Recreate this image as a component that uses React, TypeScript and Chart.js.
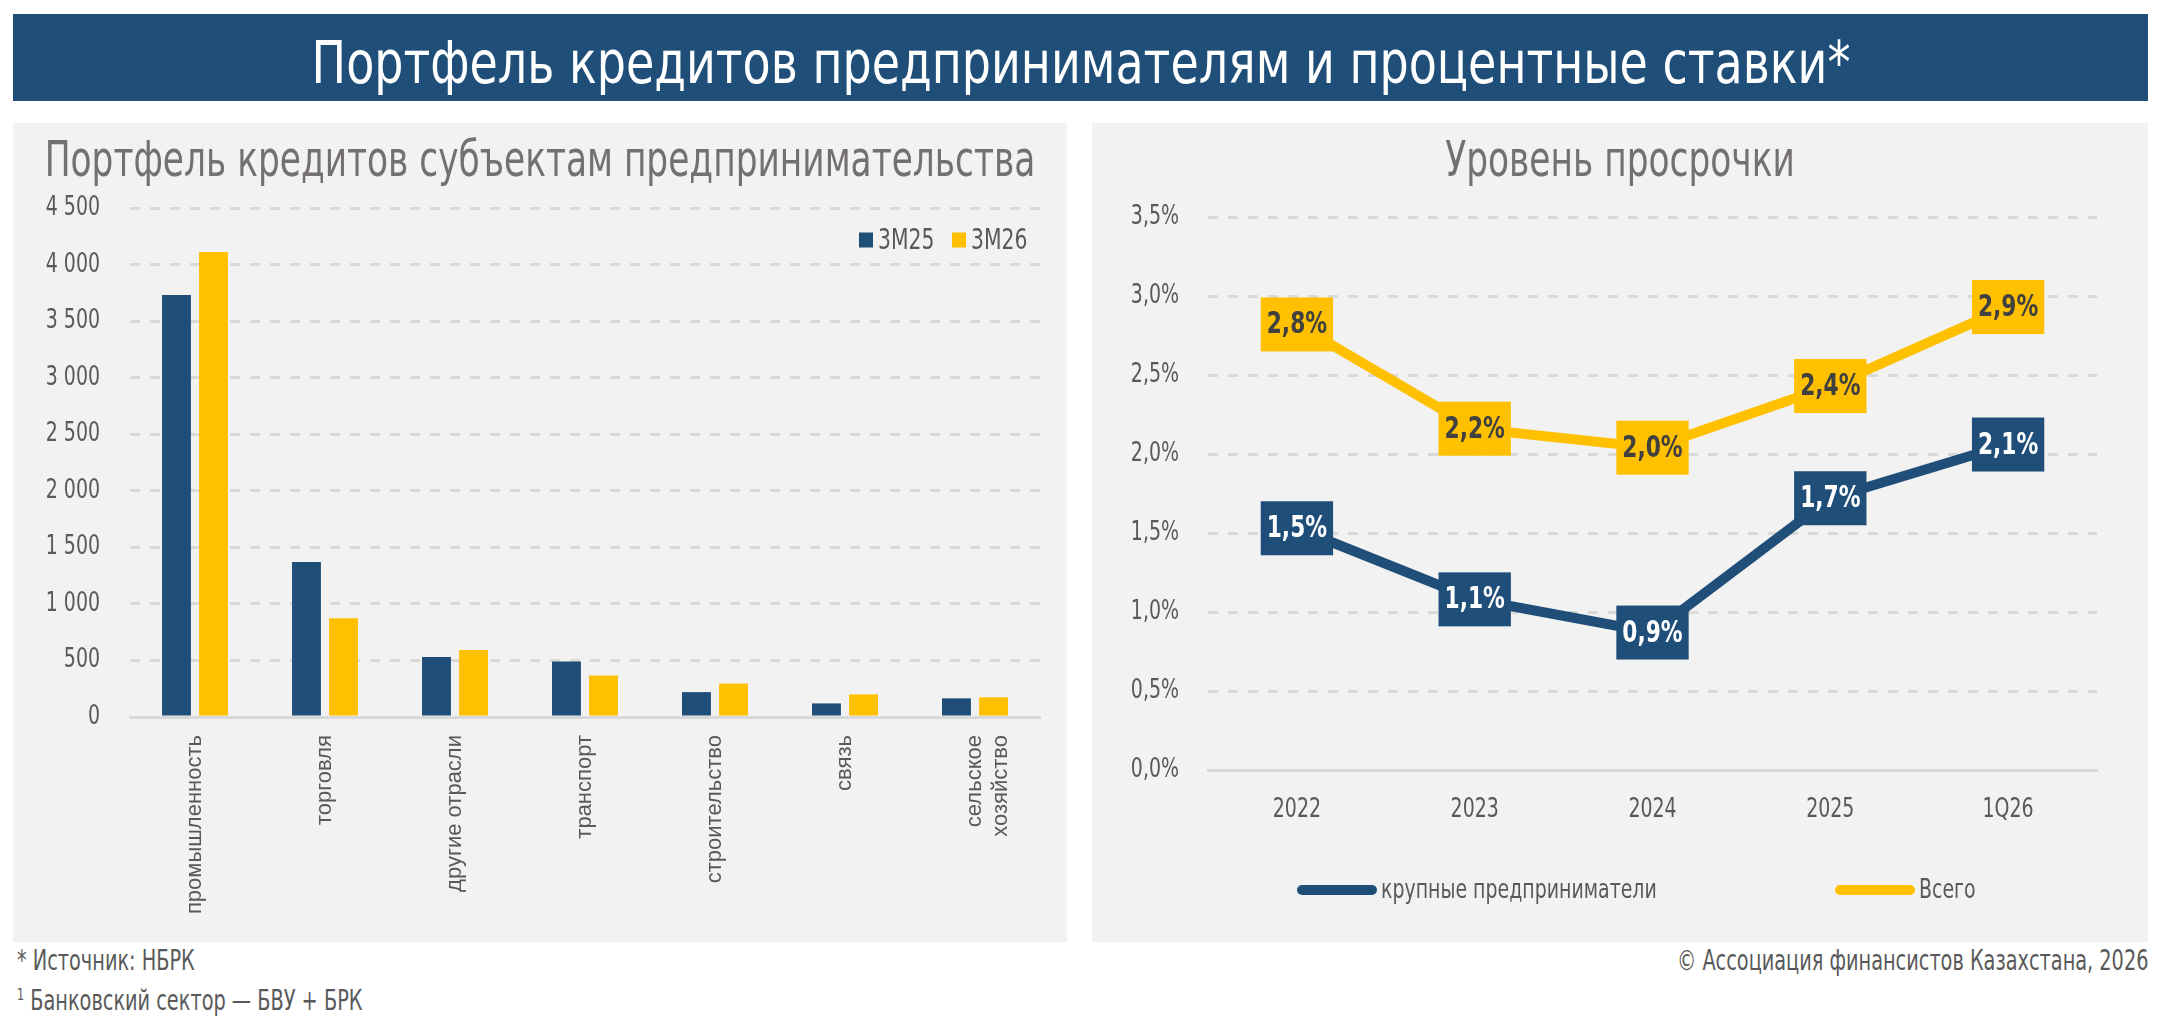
import React, { useEffect, useRef } from 'react';
import { Chart, registerables } from 'chart.js';

Chart.register(...registerables);

// ---------- data ----------
const sectors: (string | string[])[] = [
  'промышленность',
  'торговля',
  'другие отрасли',
  'транспорт',
  'строительство',
  'связь',
  ['сельское', 'хозяйство'],
];
const portfolioSeriesNames = ['3М25', '3М26'];
const portfolio3M25 = [3730, 1370, 530, 490, 220, 120, 165];
const portfolio3M26 = [4110, 872, 592, 368, 297, 200, 174];
const portfolioMax = 4500;
const portfolioStep = 500;

const periods = ['2022', '2023', '2024', '2025', '1Q26'];
const overdueSeriesNames = ['крупные предприниматели', 'Всего'];
const overdueLarge = [1.53, 1.08, 0.87, 1.72, 2.06];
const overdueTotal = [2.82, 2.16, 2.04, 2.43, 2.93];
const overdueMax = 3.5;
const overdueStep = 0.5;

const pageTitle = 'Портфель кредитов предпринимателям и процентные ставки*';
const leftTitle = 'Портфель кредитов субъектам предпринимательства';
const rightTitle = 'Уровень просрочки';

// ---------- styles ----------
const BLUE = '#1F4E79';
const YELLOW = '#FFC000';
const GRID = '#D9D9D9';
const AXIS_TEXT = '#595959';
const TITLE_TEXT = '#747070';
const COND = "'DejaVu Sans Condensed', 'DejaVu Sans', sans-serif";
const PLAIN = "'Liberation Sans', 'Arial', sans-serif";
const SX = 0.78; // horizontal squeeze for the condensed face

const fmtThousands = (v: number) => String(v).replace(/\B(?=(\d{3})+(?!\d))/g, ' ');
const fmtPct = (v: number) => v.toFixed(1).replace('.', ',') + '%';

// narrow the condensed text horizontally, keeping it real text
const squeeze = {
  id: 'squeeze',
  beforeDraw(chart: any) {
    const ctx = chart.ctx as any;
    if (ctx.__squeezed) return;
    ctx.__squeezed = true;
    const orig = ctx.fillText.bind(ctx);
    ctx.fillText = function (text: string, x: number, y: number, maxWidth?: number) {
      if (String(ctx.font).indexOf('Condensed') === -1) {
        return maxWidth === undefined ? orig(text, x, y) : orig(text, x, y, maxWidth);
      }
      ctx.save();
      ctx.translate(x, y);
      ctx.scale(SX, 1);
      if (maxWidth === undefined) orig(text, 0, 0);
      else orig(text, 0, 0, maxWidth / SX);
      ctx.restore();
    };
  },
};

// custom legend drawn from datasets
const boxLegend = {
  id: 'boxLegend',
  afterDraw(chart: any, _args: any, opts: any) {
    if (!opts || !opts.xs) return;
    const ctx = chart.ctx;
    ctx.save();
    ctx.font = opts.font;
    ctx.textBaseline = 'middle';
    ctx.textAlign = 'left';
    chart.data.datasets.forEach((ds: any, i: number) => {
      const x = opts.xs[i];
      const y = opts.y;
      ctx.fillStyle = ds.backgroundColor;
      const w = opts.boxW;
      const h = opts.boxH;
      const r = opts.radius || 0;
      ctx.beginPath();
      if (r > 0 && (ctx as any).roundRect) {
        (ctx as any).roundRect(x, y - h / 2, w, h, r);
      } else {
        ctx.rect(x, y - h / 2, w, h);
      }
      ctx.fill();
      ctx.fillStyle = opts.color;
      ctx.fillText(ds.label, x + w + opts.gap, y + 1);
    });
    ctx.restore();
  },
};

// value boxes on line points
const valueBoxes = {
  id: 'valueBoxes',
  afterDatasetsDraw(chart: any, _args: any, opts: any) {
    if (!opts || !opts.font) return;
    const ctx = chart.ctx;
    ctx.save();
    ctx.font = opts.font;
    ctx.textAlign = 'center';
    ctx.textBaseline = 'middle';
    chart.data.datasets.forEach((ds: any, di: number) => {
      const meta = chart.getDatasetMeta(di);
      meta.data.forEach((pt: any, i: number) => {
        const text = fmtPct(ds.data[i]);
        const w = ctx.measureText(text).width * SX + 2 * opts.padX;
        const h = opts.h;
        ctx.fillStyle = ds.borderColor;
        ctx.fillRect(pt.x - w / 2, pt.y - h / 2, w, h);
        ctx.fillStyle = opts.textColors[di];
        ctx.fillText(text, pt.x, pt.y + 1);
      });
    });
    ctx.restore();
  },
};

const LEFT = { x: 13, y: 123, w: 1054, h: 819 };
const RIGHT = { x: 1092, y: 123, w: 1056, h: 819 };

export default function App() {
  const leftRef = useRef<HTMLCanvasElement | null>(null);
  const rightRef = useRef<HTMLCanvasElement | null>(null);

  useEffect(() => {
    document.body.style.margin = '0';
    const charts: Chart[] = [];
    if (leftRef.current) {
      charts.push(
        new Chart(leftRef.current, {
          type: 'bar',
          data: {
            labels: sectors as any,
            datasets: [
              {
                label: portfolioSeriesNames[0],
                data: portfolio3M25,
                backgroundColor: BLUE,
                categoryPercentage: 0.57,
                barPercentage: 0.78,
              },
              {
                label: portfolioSeriesNames[1],
                data: portfolio3M26,
                backgroundColor: YELLOW,
                categoryPercentage: 0.57,
                barPercentage: 0.78,
              },
            ],
          },
          options: {
            responsive: false,
            animation: false,
            layout: { padding: { left: 0, right: 27, top: 85, bottom: 0 } },
            plugins: {
              legend: { display: false },
              tooltip: { enabled: false },
              title: { display: false },
              boxLegend: {
                xs: [846, 939],
                y: 117,
                boxW: 14,
                boxH: 15,
                gap: 5,
                font: `29px ${COND}`,
                color: AXIS_TEXT,
              },
            } as any,
            scales: {
              x: {
                grid: { display: false, drawTicks: false },
                border: { display: true, color: GRID, width: 3 },
                ticks: {
                  color: AXIS_TEXT,
                  font: { family: PLAIN, size: 22 },
                  minRotation: 90,
                  maxRotation: 90,
                  padding: 18,
                  autoSkip: false,
                },
                afterFit: (s: any) => {
                  s.height = 225;
                },
              },
              y: {
                min: 0,
                max: portfolioMax,
                ticks: {
                  stepSize: portfolioStep,
                  color: AXIS_TEXT,
                  font: { family: COND, size: 27 },
                  padding: 30,
                  callback: (v: any) => fmtThousands(Number(v)),
                },
                grid: {
                  color: (c: any) => (c.tick && c.tick.value === 0 ? 'rgba(0,0,0,0)' : GRID),
                  lineWidth: 3,
                  drawTicks: false,
                },
                border: { display: false, dash: [10, 10] },
                afterFit: (s: any) => {
                  s.width = 117;
                },
              },
            },
          } as any,
          plugins: [squeeze, boxLegend],
        })
      );
    }
    if (rightRef.current) {
      charts.push(
        new Chart(rightRef.current, {
          type: 'line',
          data: {
            labels: periods,
            datasets: [
              {
                label: overdueSeriesNames[0],
                data: overdueLarge,
                borderColor: BLUE,
                backgroundColor: BLUE,
                borderWidth: 10,
                pointRadius: 0,
                tension: 0,
              },
              {
                label: overdueSeriesNames[1],
                data: overdueTotal,
                borderColor: YELLOW,
                backgroundColor: YELLOW,
                borderWidth: 10,
                pointRadius: 0,
                tension: 0,
              },
            ],
          },
          options: {
            responsive: false,
            animation: false,
            layout: { padding: { left: 0, right: 51, top: 94, bottom: 0 } },
            plugins: {
              legend: { display: false },
              tooltip: { enabled: false },
              title: { display: false },
              boxLegend: {
                xs: [205, 743],
                y: 767,
                boxW: 80,
                boxH: 10,
                radius: 5,
                gap: 4,
                font: `27px ${COND}`,
                color: AXIS_TEXT,
              },
              valueBoxes: {
                font: `bold 31px ${COND}`,
                padX: 6,
                h: 54,
                textColors: ['#FFFFFF', '#404040'],
              },
            } as any,
            scales: {
              x: {
                offset: true,
                grid: { display: false, drawTicks: false },
                border: { display: true, color: GRID, width: 3 },
                ticks: {
                  color: AXIS_TEXT,
                  font: { family: COND, size: 27 },
                  padding: 24,
                },
                afterFit: (s: any) => {
                  s.height = 172;
                },
              },
              y: {
                min: 0,
                max: overdueMax,
                ticks: {
                  stepSize: overdueStep,
                  color: AXIS_TEXT,
                  font: { family: COND, size: 27 },
                  padding: 29,
                  callback: (v: any) => fmtPct(Number(v)),
                },
                grid: {
                  color: (c: any) => (c.tick && c.tick.value === 0 ? 'rgba(0,0,0,0)' : GRID),
                  lineWidth: 3,
                  drawTicks: false,
                },
                border: { display: false, dash: [10, 10] },
                afterFit: (s: any) => {
                  s.width = 116;
                },
              },
            },
          } as any,
          plugins: [squeeze, valueBoxes, boxLegend],
        })
      );
    }
    return () => {
      charts.forEach((c) => c.destroy());
    };
  }, []);

  const footStyle: React.CSSProperties = {
    position: 'absolute',
    fontFamily: COND,
    fontSize: 27.5,
    color: AXIS_TEXT,
    whiteSpace: 'nowrap',
    lineHeight: '30px',
    transform: `scaleX(${SX})`,
  };

  const centeredText = (sx: number): React.CSSProperties => ({
    position: 'absolute',
    left: '50%',
    width: 'max-content',
    whiteSpace: 'nowrap',
    transform: `translateX(-50%) scaleX(${sx})`,
    transformOrigin: 'center center',
    pointerEvents: 'none',
  });

  const panelTitle: React.CSSProperties = {
    ...centeredText(SX),
    top: 7,
    height: 59,
    lineHeight: '59px',
    fontFamily: COND,
    fontSize: 49,
    color: TITLE_TEXT,
  };

  return (
    <div
      style={{
        position: 'fixed',
        left: 0,
        top: 0,
        width: 2160,
        height: 1016,
        background: '#FFFFFF',
        overflow: 'hidden',
      }}
    >
      <div
        style={{
          position: 'absolute',
          left: 13,
          top: 14,
          width: 2135,
          height: 87,
          background: BLUE,
          overflow: 'hidden',
        }}
      >
        <div
          style={{
            ...centeredText(0.866),
            top: 5,
            color: '#FFFFFF',
            fontFamily: COND,
            fontSize: 59,
            lineHeight: '87px',
          }}
        >
          {pageTitle}
        </div>
      </div>
      <div
        style={{
          position: 'absolute',
          left: LEFT.x,
          top: LEFT.y,
          width: LEFT.w,
          height: LEFT.h,
          background: '#F2F2F2',
        }}
      >
        <canvas ref={leftRef} width={LEFT.w} height={LEFT.h} style={{ display: 'block' }} />
        <div style={panelTitle}>{leftTitle}</div>
      </div>
      <div
        style={{
          position: 'absolute',
          left: RIGHT.x,
          top: RIGHT.y,
          width: RIGHT.w,
          height: RIGHT.h,
          background: '#F2F2F2',
        }}
      >
        <canvas ref={rightRef} width={RIGHT.w} height={RIGHT.h} style={{ display: 'block' }} />
        <div style={panelTitle}>{rightTitle}</div>
      </div>
      <div style={{ ...footStyle, left: 17, top: 945, transformOrigin: 'left center' }}>
        * Источник: НБРК
      </div>
      <div style={{ ...footStyle, left: 17, top: 980, transformOrigin: 'left center' }}>
        <sup style={{ fontSize: 16 }}>1</sup> Банковский сектор — БВУ + БРК
      </div>
      <div style={{ ...footStyle, right: 12, top: 945, transformOrigin: 'right center' }}>
        © Ассоциация финансистов Казахстана, 2026
      </div>
    </div>
  );
}
